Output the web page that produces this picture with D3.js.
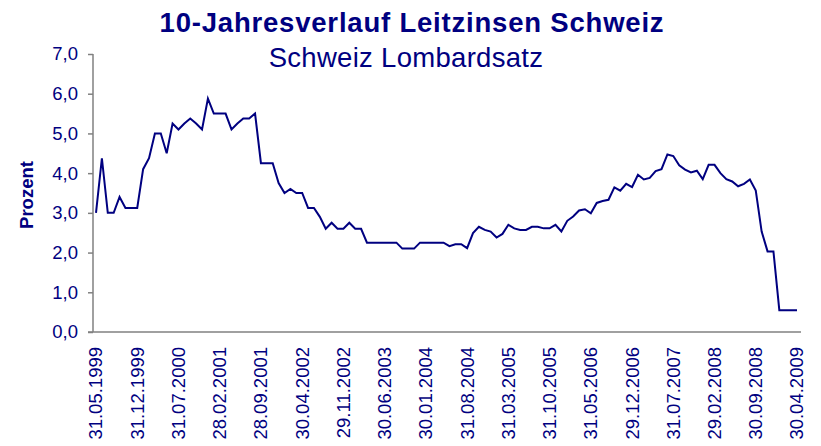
<!DOCTYPE html>
<html>
<head>
<meta charset="utf-8">
<script src="https://cdn.jsdelivr.net/npm/d3@7"></script>
<style>
  body { margin: 0; background: #fff; }
  svg text { font-family: Arial, "Liberation Sans", sans-serif; }
</style>
</head>
<body>
<div id="container"></div>
<script>
(function() {

// Monthly values, 31.05.1999 .. 30.04.2009
let values = [
  3.0, 4.375, 3.0, 3.0, 3.4, 3.125, 3.125, 3.125, 4.1, 4.375,
  5.0, 5.0, 4.5, 5.25, 5.1, 5.25, 5.375, 5.25, 5.1, 5.875,
  5.5, 5.5, 5.5, 5.1, 5.25, 5.375, 5.375, 5.5, 4.25, 4.25,
  4.25, 3.75, 3.5, 3.6, 3.5, 3.5, 3.125, 3.125, 2.9, 2.6,
  2.75, 2.6, 2.6, 2.75, 2.6, 2.6, 2.25, 2.25, 2.25, 2.25,
  2.25, 2.25, 2.1, 2.1, 2.1, 2.25, 2.25, 2.25, 2.25, 2.25,
  2.16, 2.21, 2.21, 2.11, 2.49, 2.65, 2.57, 2.53, 2.38, 2.47,
  2.7, 2.61, 2.57, 2.57, 2.65, 2.65, 2.61, 2.61, 2.7, 2.53,
  2.8, 2.91, 3.06, 3.09, 2.99, 3.25, 3.3, 3.33, 3.64, 3.56,
  3.73, 3.65, 3.96, 3.84, 3.88, 4.05, 4.1, 4.47, 4.43, 4.2,
  4.09, 4.02, 4.06, 3.85, 4.21, 4.21, 4.0, 3.85, 3.79, 3.67,
  3.73, 3.84, 3.56, 2.53, 2.03, 2.03, 0.55, 0.55, 0.55, 0.55
];

// one label every 7 months
let tickLabels = [
  "31.05.1999", "31.12.1999", "31.07.2000", "28.02.2001", "28.09.2001",
  "30.04.2002", "29.11.2002", "30.06.2003", "30.01.2004", "31.08.2004",
  "31.03.2005", "31.10.2005", "31.05.2006", "29.12.2006", "31.07.2007",
  "29.02.2008", "30.09.2008", "30.04.2009"
];
let tickStep = 7;

let yTicks = [0, 1, 2, 3, 4, 5, 6, 7];

let title = "10-Jahresverlauf Leitzinsen Schweiz";
let subtitle = "Schweiz Lombardsatz";
let yTitle = "Prozent";

let navy = "#000080";
let axisColor = "#808080";

let width = 821;
let height = 446;

let svg = d3.select("#container")
  .append("svg")
    .attr("width", width)
    .attr("height", height);

let x = d3.scaleLinear()
  .domain([0, values.length - 1])
  .range([96, 797]);
let y = d3.scaleLinear()
  .domain([0, 7])
  .range([332, 54]);

// Titles
svg.append("text")
  .attr("x", 412)
  .attr("y", 32)
  .attr("text-anchor", "middle")
  .attr("font-size", 27.5)
  .attr("font-weight", "bold")
  .attr("letter-spacing", 0.8)
  .attr("fill", navy)
  .text(title);
svg.append("text")
  .attr("x", 406)
  .attr("y", 67)
  .attr("text-anchor", "middle")
  .attr("font-size", 27.5)
  .attr("letter-spacing", 0.3)
  .attr("fill", navy)
  .text(subtitle);

svg.append("text")
  .attr("transform", "translate(33,195) rotate(-90)")
  .attr("text-anchor", "middle")
  .attr("font-size", 18.5)
  .attr("font-weight", "bold")
  .attr("fill", navy)
  .text(yTitle);

// Y axis
let yAxis = svg.append("g")
  .attr("transform", "translate(93,0)")
  .call(d3.axisLeft(y)
    .tickValues(yTicks)
    .tickSize(5)
    .tickPadding(10)
    .tickFormat((d) => d3.format(".1f")(d).replace(".", ",")));
yAxis.select(".domain").attr("stroke", axisColor).attr("stroke-width", 1.5)
  .attr("d", "M0," + y(7) + "V" + y(0));
yAxis.selectAll(".tick line").attr("stroke", axisColor).attr("stroke-width", 1.5);
yAxis.selectAll(".tick text")
  .attr("fill", navy)
  .attr("font-size", 18.5)
  .attr("font-family", "Arial, 'Liberation Sans', sans-serif");

// X axis line
svg.append("line")
  .attr("x1", 88)
  .attr("x2", 801)
  .attr("y1", y(0))
  .attr("y2", y(0))
  .attr("stroke", axisColor)
  .attr("stroke-width", 1.5);

// X labels
svg.append("g")
  .selectAll("text")
  .data(tickLabels)
  .enter()
  .append("text")
    .attr("transform", (d, i) => "translate(" + x(i * tickStep) + "," + (y(0) + 15) + ") rotate(-90)")
    .attr("dy", "0.35em")
    .attr("text-anchor", "end")
    .attr("font-size", 18.5)
    .attr("fill", navy)
    .text((d) => d);

// Line
let line = d3.line()
  .x((d, i) => x(i))
  .y((d) => y(d));

svg.append("path")
  .datum(values)
  .attr("d", line)
  .attr("fill", "none")
  .attr("stroke", navy)
  .attr("stroke-width", 2)
  .attr("stroke-linejoin", "miter");

})();
</script>
</body>
</html>
